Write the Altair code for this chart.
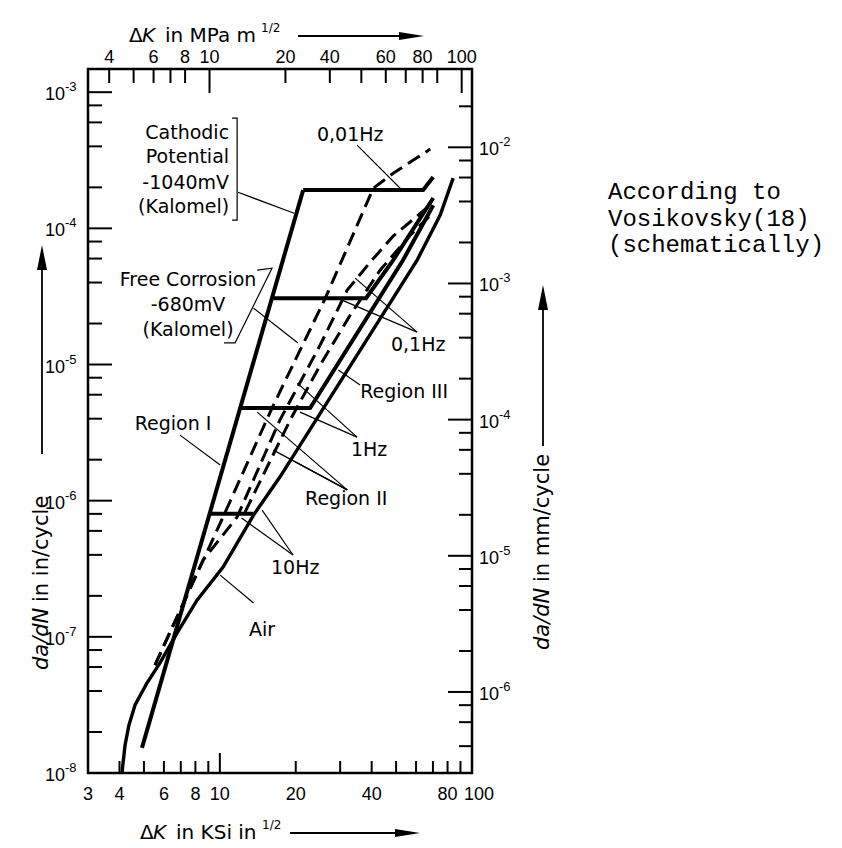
import altair as alt
import pandas as pd

NUM_FONT = "Liberation Sans, sans-serif"
FONT = "DejaVu Sans, sans-serif"
MONO = "Liberation Mono, DejaVu Sans Mono, monospace"

W, H = 384, 704
X_DOMAIN = [3, 100]
Y_DOMAIN = [1e-8, 1.48e-3]
MPA_PER_KSI = 1.0988
MM_PER_IN = 25.4

# ---------------- curves (dK in ksi in^1/2, da/dN in in/cycle) ----------------
air_dk = [4.09, 4.21, 4.36, 4.61, 5.14, 5.79, 6.77, 8.12, 10.30, 13.6, 17.3, 60.6, 74.8, 84.2]
air_dadn = [1e-8, 1.61e-8, 2.25e-8, 3.16e-8, 4.58e-8, 6.43e-8, 1.07e-7, 1.86e-7, 3.25e-7,
            7.84e-7, 1.49e-6, 5.85e-5, 1.25e-4, 2.34e-4]

region1_dk = [4.91, 21.4]
region1_dadn = [1.53e-8, 1.91e-4]

hz10_dk = [9.14, 13.6]
hz10_dadn = [8.0e-7, 8.0e-7]
hz1_dk = [12.2, 22.8, 53.3, 70.2]
hz1_dadn = [4.79e-6, 4.79e-6, 5.85e-5, 1.48e-4]
hz01_dk = [16.3, 38.0, 48.7, 70.2]
hz01_dadn = [3.07e-5, 3.07e-5, 5.85e-5, 1.67e-4]
hz001_dk = [21.4, 64.0, 70.2]
hz001_dadn = [1.91e-4, 1.91e-4, 2.38e-4]

fc001_dk = [5.53, 10.30, 16.1, 26.2, 40.6, 48.7, 68.3]
fc001_dadn = [6.21e-8, 7.59e-7, 4.79e-6, 3.07e-5, 1.97e-4, 2.54e-4, 3.82e-4]
fc01_dk = [5.53, 8.58, 11.71, 17.3, 25.0, 32.0, 39.5, 48.7, 68.3]
fc01_dadn = [6.21e-8, 3.66e-7, 7.59e-7, 3.91e-6, 1.39e-5, 3.52e-5, 5.65e-5, 8.77e-5, 1.48e-4]
fc1_dk = [12.59, 19.0, 25.0, 32.9, 43.2, 56.9, 70.2]
fc1_dadn = [8.25e-7, 3.91e-6, 9.90e-6, 2.31e-5, 4.93e-5, 8.91e-5, 1.31e-4]

# ---------------- leader lines and brackets ----------------
leader_id = ["cath", "cath", "bc", "bc", "bc", "bc", "fcb", "fcb", "fcb", "fcb",
             "fc", "fc", "h001", "h001", "h01a", "h01a", "h01b", "h01b", "r3", "r3",
             "h1a", "h1a", "h1b", "h1b", "r2a", "r2a", "r2b", "r2b", "r2c", "r2c",
             "r1", "r1", "h10a", "h10a", "h10b", "h10b", "air", "air"]
leader_dk = [11.81, 19.7, 11.18, 11.71, 11.71, 11.18, 14.06, 16.1, 11.49, 10.39,
             13.6, 20.4, 35.0, 51.9, 60.6, 30.5, 60.6, 34.4, 36.0, 29.5,
             35.0, 20.3, 35.0, 20.8, 32.0, 14.06, 32.0, 16.3, 32.0, 19.35,
             6.95, 10.03, 19.5, 12.2, 19.5, 14.71, 13.6, 10.03]
leader_dadn = [1.84e-4, 1.29e-4, 6.44e-4, 6.44e-4, 1.15e-4, 1.15e-4, 4.93e-5, 5.10e-5, 1.44e-5, 1.44e-5,
               2.59e-5, 1.44e-5, 4.08e-4, 1.97e-4, 1.73e-5, 2.97e-5, 1.73e-5, 4.31e-5, 7.06e-6, 9.10e-6,
               2.93e-6, 7.30e-6, 2.93e-6, 4.47e-6, 1.20e-6, 4.47e-6, 1.20e-6, 2.35e-6, 1.20e-6, 1.99e-6,
               3.03e-6, 1.83e-6, 3.99e-7, 7.45e-7, 3.99e-7, 8.53e-7, 1.77e-7, 2.84e-7]

# ---------------- in-plot labels ----------------
label_text = ["Free Corrosion", "-680mV", "(Kalomel)", "0,01Hz", "0,1Hz", "Region III",
              "1Hz", "Region II", "Region I", "10Hz", "Air"]
label_dk = [7.48, 7.48, 7.48, 32.9, 61.2, 53.8, 39.1, 31.7, 6.52, 19.9, 14.71]
label_dadn = [4.17e-5, 2.73e-5, 1.79e-5, 4.83e-4, 1.39e-5, 6.27e-6, 2.35e-6, 1.03e-6, 3.65e-6, 3.20e-7, 1.12e-7]
cath_text = ["Cathodic", "Potential", "-1040mV", "(Kalomel)"]
cath_dk = [10.88, 10.88, 10.88, 10.88]
cath_dadn = [5.0e-4, 3.33e-4, 2.15e-4, 1.43e-4]

# ---------------- ticks and tick labels ----------------
bottom_major = [10]
bottom_minor = [4, 5, 6, 7, 8, 9, 20, 30, 40, 50, 60, 70, 80, 90]
bottom_labels = [3, 4, 6, 8, 10, 20, 40, 80, 100]
top_major_mpa = [10, 100]
top_minor_mpa = [4, 5, 6, 7, 8, 20, 30, 40, 50, 60, 70, 80]
top_label_text = ["4", "6", "8", "10", "20", "40", "60", "80", "100"]
top_label_mpa = [4, 6, 8, 10, 20, 30, 50, 70, 100]
left_major = [1e-3, 1e-4, 1e-5, 1e-6, 1e-7, 1e-8]
left_exp = ["-3", "-4", "-5", "-6", "-7", "-8"]
left_minor = [8e-4, 6e-4, 4e-4, 2e-4, 8e-5, 6e-5, 4e-5, 2e-5, 8e-6, 6e-6, 4e-6, 2e-6,
              8e-7, 6e-7, 4e-7, 2e-7, 8e-8, 6e-8, 4e-8, 2e-8]
right_major_mm = [1e-2, 1e-3, 1e-4, 1e-5, 1e-6]
right_exp = ["-2", "-3", "-4", "-5", "-6"]
right_minor_mm = [2e-2, 8e-3, 6e-3, 4e-3, 2e-3, 8e-4, 6e-4, 4e-4, 2e-4, 8e-5, 6e-5, 4e-5, 2e-5,
                  8e-6, 6e-6, 4e-6, 2e-6, 8e-7, 6e-7, 4e-7]

XS = alt.Scale(type="log", domain=X_DOMAIN, nice=False)
YS = alt.Scale(type="log", domain=Y_DOMAIN, nice=False)


def X(f="dk"):
    return alt.X(f"{f}:Q", scale=XS, axis=None)


def Y(f="dadn"):
    return alt.Y(f"{f}:Q", scale=YS, axis=None)


def curves(named):
    rows = []
    for name, (xs, ys) in named.items():
        for i, (a, b) in enumerate(zip(xs, ys)):
            rows.append({"name": name, "dk": a, "dadn": b, "ord": i})
    return pd.DataFrame(rows)


thick_df = curves({"region1": (region1_dk, region1_dadn), "hz10": (hz10_dk, hz10_dadn),
                   "hz1": (hz1_dk, hz1_dadn), "hz01": (hz01_dk, hz01_dadn),
                   "hz001": (hz001_dk, hz001_dadn)})
air_df = curves({"air": (air_dk, air_dadn)})
dash_df = curves({"fc001": (fc001_dk, fc001_dadn), "fc01": (fc01_dk, fc01_dadn),
                  "fc1": (fc1_dk, fc1_dadn)})
lead_df = pd.DataFrame({"name": leader_id, "dk": leader_dk, "dadn": leader_dadn})
lead_df["ord"] = range(len(lead_df))

line_enc = dict(x=X(), y=Y(), detail="name:N", order="ord:Q")

thick = alt.Chart(thick_df).mark_line(color="black", strokeWidth=4, strokeJoin="miter").encode(**line_enc)
air = alt.Chart(air_df).mark_line(color="black", strokeWidth=3.4).encode(**line_enc)
dashed = alt.Chart(dash_df).mark_line(color="black", strokeWidth=3, strokeDash=[14, 7]).encode(**line_enc)
leaders = alt.Chart(lead_df).mark_line(color="black", strokeWidth=1.2).encode(**line_enc)

labels = alt.Chart(pd.DataFrame({"t": label_text, "dk": label_dk, "dadn": label_dadn})).mark_text(
    font=FONT, fontSize=19, color="black", align="center", baseline="middle").encode(x=X(), y=Y(), text="t:N")
cath_labels = alt.Chart(pd.DataFrame({"t": cath_text, "dk": cath_dk, "dadn": cath_dadn})).mark_text(
    font=FONT, fontSize=19, color="black", align="right", baseline="middle").encode(x=X(), y=Y(), text="t:N")

# ---------------- ticks (inward) ----------------
tick_mark = dict(color="black", strokeWidth=2)
num = dict(font=NUM_FONT, fontSize=18, color="black")
expo = dict(font=NUM_FONT, fontSize=13, color="black")

bmaj = alt.Chart(pd.DataFrame({"v": bottom_major})).mark_rule(**tick_mark).encode(
    x=X("v"), y=alt.value(H), y2=alt.value(H - 20))
bmin = alt.Chart(pd.DataFrame({"v": bottom_minor})).mark_rule(**tick_mark).encode(
    x=X("v"), y=alt.value(H), y2=alt.value(H - 12))
blab = alt.Chart(pd.DataFrame({"v": bottom_labels[:-1]})).mark_text(
    align="center", baseline="alphabetic", **num).encode(x=X("v"), y=alt.value(H + 27), text="v:N")
blab_last = alt.Chart(pd.DataFrame({"v": bottom_labels[-1:]})).mark_text(
    align="center", baseline="alphabetic", dx=7, **num).encode(x=X("v"), y=alt.value(H + 27), text="v:N")

top_df_maj = pd.DataFrame({"mpa": top_major_mpa})
top_df_maj["v"] = top_df_maj["mpa"] / MPA_PER_KSI
top_df_min = pd.DataFrame({"mpa": top_minor_mpa})
top_df_min["v"] = top_df_min["mpa"] / MPA_PER_KSI
tmaj = alt.Chart(top_df_maj).mark_rule(**tick_mark).encode(x=X("v"), y=alt.value(0), y2=alt.value(24))
tmin = alt.Chart(top_df_min).mark_rule(**tick_mark).encode(x=X("v"), y=alt.value(0), y2=alt.value(14))
top_lab_df = pd.DataFrame({"t": top_label_text, "mpa": top_label_mpa})
top_lab_df["v"] = top_lab_df["mpa"] / MPA_PER_KSI
tlab = alt.Chart(top_lab_df).mark_text(baseline="alphabetic", align="center", **num).encode(
    x=X("v"), y=alt.value(-6), text="t:N")

lmaj = alt.Chart(pd.DataFrame({"v": left_major})).mark_rule(**tick_mark).encode(
    y=Y("v"), x=alt.value(0), x2=alt.value(24))
lmin = alt.Chart(pd.DataFrame({"v": left_minor})).mark_rule(**tick_mark).encode(
    y=Y("v"), x=alt.value(0), x2=alt.value(14))
left_lab_df = pd.DataFrame({"v": left_major, "e": left_exp, "b": ["10"] * len(left_major)})
llab = alt.Chart(left_lab_df).mark_text(align="right", baseline="middle", dy=3, **num).encode(
    y=Y("v"), x=alt.value(-23), text="b:N")
lexp = alt.Chart(left_lab_df).mark_text(align="left", baseline="middle", dy=-5, **expo).encode(
    y=Y("v"), x=alt.value(-23), text="e:N")

rmaj_df = pd.DataFrame({"mm": right_major_mm, "e": right_exp, "b": ["10"] * len(right_major_mm)})
rmaj_df["v"] = rmaj_df["mm"] / MM_PER_IN
rmin_df = pd.DataFrame({"mm": right_minor_mm})
rmin_df["v"] = rmin_df["mm"] / MM_PER_IN
rmaj = alt.Chart(rmaj_df).mark_rule(**tick_mark).encode(
    y=Y("v"), x=alt.value(W), x2=alt.value(W - 24))
rmin = alt.Chart(rmin_df).mark_rule(**tick_mark).encode(
    y=Y("v"), x=alt.value(W), x2=alt.value(W - 13))
rlab = alt.Chart(rmaj_df).mark_text(align="left", baseline="middle", dy=3, **num).encode(
    y=Y("v"), x=alt.value(W + 7), text="b:N")
rexp = alt.Chart(rmaj_df).mark_text(align="left", baseline="middle", dy=-5, **expo).encode(
    y=Y("v"), x=alt.value(W + 27), text="e:N")

# ---------------- titles, arrows, note (layout in pixels) ----------------
one = pd.DataFrame({"a": [0]})


def txt(s, x, y, size=20, italic=False, angle=0, align="left", baseline="alphabetic", font=FONT, **kw):
    return alt.Chart(one).mark_text(text=s, font=font, fontSize=size, fontStyle="italic" if italic else "normal",
                                    angle=angle, align=align, baseline=baseline, color="black", **kw).encode(
        x=alt.value(x), y=alt.value(y))


def hline(x1, x2, y):
    return alt.Chart(one).mark_rule(color="black", strokeWidth=1.8).encode(
        x=alt.value(x1), x2=alt.value(x2), y=alt.value(y))


def vline(x, y1, y2):
    return alt.Chart(one).mark_rule(color="black", strokeWidth=1.8).encode(
        x=alt.value(x), y=alt.value(y1), y2=alt.value(y2))


def head(x, y, shape):
    return alt.Chart(one).mark_point(shape=shape, filled=True, size=625, color="black", opacity=1,
                                     strokeWidth=0).encode(x=alt.value(x), y=alt.value(y))


RIGHT = "M1,0L-1,-0.32L-1,0.32Z"
UP = "M0,-1L-0.4,1L0.4,1Z"

titles = [
    # top
    txt("Δ", 41, -27), txt("K", 54, -27, italic=True), txt("in MPa m", 77, -27), txt("1/2", 173, -37, size=12),
    hline(210, 322, -33), head(323.5, -33, RIGHT),
    # bottom
    txt("Δ", 52, 770), txt("K", 65, 770, italic=True), txt("in KSi in", 88, 770), txt("1/2", 174, 760, size=12),
    hline(202, 318, 764), head(319.5, 764, RIGHT),
    # left
    txt("da/dN", -46, 601, size=21, angle=270, italic=True, baseline="middle"),
    txt("in   in/cycle", -46, 533, size=21, angle=270, baseline="middle"),
    vline(-46, 385, 199), head(-46, 188.5, UP),
    # right
    txt("da/dN", 455, 581, size=21, angle=270, italic=True, baseline="middle"),
    txt("in mm/cycle", 455, 513, size=21, angle=270, baseline="middle"),
    vline(455, 377, 227), head(455, 228.5, UP),
    # note
    alt.Chart(one).mark_text(text="According to\nVosikovsky(18)\n(schematically)", lineBreak="\n",
                             font=MONO, fontSize=24, lineHeight=26.5, align="left", baseline="alphabetic",
                             color="black").encode(x=alt.value(520), y=alt.value(130)),
]

chart = alt.layer(
    lmaj, rmaj, bmaj, lmin, rmin, bmin, tmaj, tmin, tlab, blab, blab_last, llab, lexp, rlab, rexp,
    leaders, dashed, air, thick, labels, cath_labels, *titles
).properties(
    width=W, height=H,
    autosize=alt.AutoSizeParams(type="none"),
    padding={"left": 80, "top": 61, "right": 362, "bottom": 73},
).configure_view(stroke="black", strokeWidth=2.5)

chart.save("out.html", embed_options={"renderer": "svg", "actions": False})
